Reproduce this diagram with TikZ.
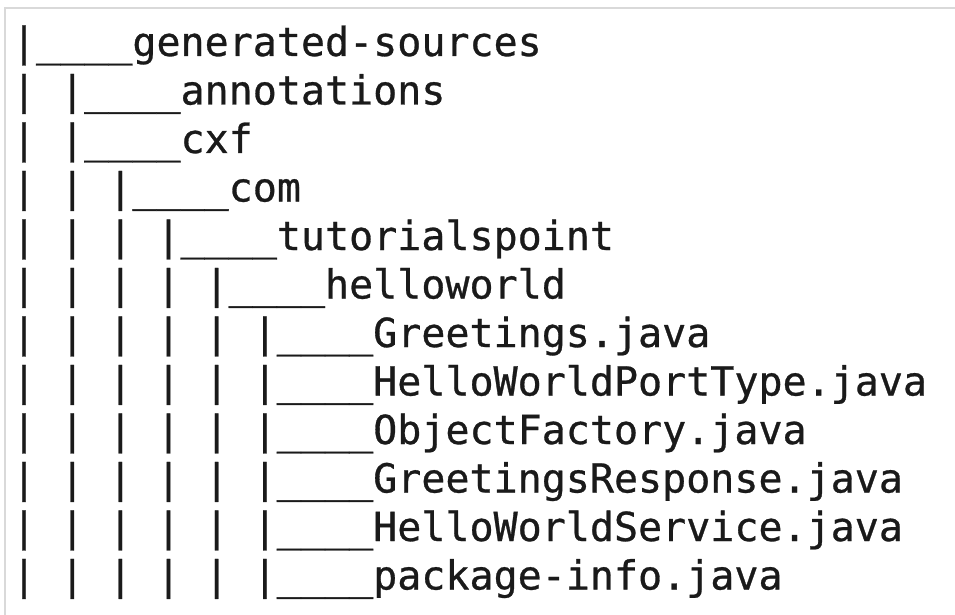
\documentclass[tikz,border=0pt]{standalone}
\usepackage{fontspec}
\newfontfamily\treemono[FakeBold=0.7]{DejaVu Sans Mono}
\definecolor{ink}{HTML}{1A1A1A}
\definecolor{frame}{HTML}{D9D9D9}
\begin{document}
\begin{tikzpicture}[x=1pt,y=-1pt,
  treeline/.style={anchor=base west,inner sep=0pt,outer sep=0pt,text=ink,
    font=\treemono\fontsize{40}{48}\selectfont}]
\useasboundingbox (0,0) rectangle (955,615);
\fill[white] (0,0) rectangle (955,615);
\draw[frame,line width=1.6pt] (5,615) -- (5,8) -- (955,8);
\node[treeline] (l0) at (12,56) {|\_\_\_\_generated-sources};
\node[treeline] (l1) at (12,104.5) {|~|\_\_\_\_annotations};
\node[treeline] (l2) at (12,153) {|~|\_\_\_\_cxf};
\node[treeline] (l3) at (12,201.5) {|~|~|\_\_\_\_com};
\node[treeline] (l4) at (12,250) {|~|~|~|\_\_\_\_tutorialspoint};
\node[treeline] (l5) at (12,298.5) {|~|~|~|~|\_\_\_\_helloworld};
\node[treeline] (l6) at (12,347) {|~|~|~|~|~|\_\_\_\_Greetings.java};
\node[treeline] (l7) at (12,395.5) {|~|~|~|~|~|\_\_\_\_HelloWorldPortType.java};
\node[treeline] (l8) at (12,444) {|~|~|~|~|~|\_\_\_\_ObjectFactory.java};
\node[treeline] (l9) at (12,492.5) {|~|~|~|~|~|\_\_\_\_GreetingsResponse.java};
\node[treeline] (l10) at (12,541) {|~|~|~|~|~|\_\_\_\_HelloWorldService.java};
\node[treeline] (l11) at (12,589.5) {|~|~|~|~|~|\_\_\_\_package-info.java};
\end{tikzpicture}
\end{document}
